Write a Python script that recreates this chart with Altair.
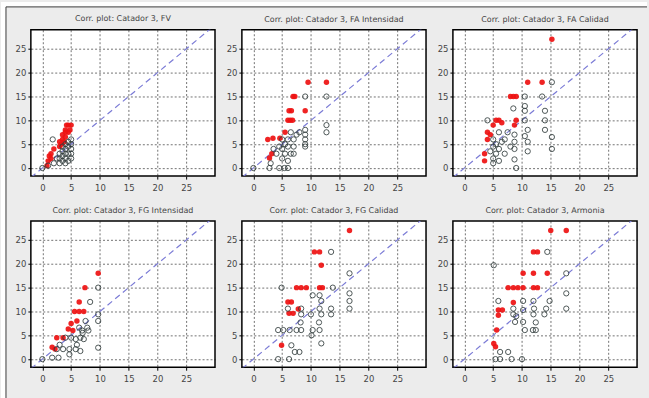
import altair as alt
import pandas as pd

titles = ["Corr. plot: Catador 3, FV", "Corr. plot: Catador 3, FA Intensidad",
          "Corr. plot: Catador 3, FA Calidad", "Corr. plot: Catador 3, FG Intensidad",
          "Corr. plot: Catador 3, FG Calidad", "Corr. plot: Catador 3, Armonia"]

# Panel 1: FV
fv_red_x = [0.8, 1.0, 1.2, 1.5, 1.5, 2.0, 3.0, 3.0, 3.3, 3.5, 3.5, 4.0, 4.0, 4.0, 4.2, 4.5, 4.5, 5.0, 4.8, 3.8]
fv_red_y = [0.5, 1.5, 2.5, 2.0, 3.0, 4.0, 4.5, 5.5, 5.0, 6.0, 7.0, 6.5, 7.5, 8.0, 9.0, 9.0, 7.5, 9.0, 8.0, 5.5]
fv_blk_x = [0.0, 1.0, 2.0, 2.5, 3.0, 3.0, 3.0, 3.5, 3.5, 3.5, 4.0, 4.0, 4.0, 4.0, 4.5, 4.5, 4.5, 4.5, 5.0, 5.0, 5.0, 5.0, 5.0, 1.8, 3.5, 4.0]
fv_blk_y = [0.0, 0.5, 1.0, 2.0, 1.0, 2.0, 3.0, 1.5, 2.5, 3.5, 1.0, 2.0, 3.0, 4.0, 1.5, 3.0, 4.5, 5.5, 2.0, 3.0, 4.0, 5.0, 6.0, 6.0, 4.5, 5.0]

# Panel 2: FA Intensidad
fai_red_x = [9.5, 12.7, 6.9, 7.2, 6.6, 6.2, 9.0, 6.4, 6.8, 6.0, 3.4, 4.6, 2.8, 3.2, 5.5, 2.5]
fai_red_y = [18, 18, 15, 15, 12, 12, 12, 10, 10, 10, 6.25, 6.25, 2.1, 3.0, 7.5, 6.0]
fai_blk_x = [12.7, 9.0, 12.7, 12.7, 9.0, 9.0, 9.0, 9.0, 9.0, 8.0, 7.5, 7.0, 7.0, 6.5, 6.5, 6.0, 6.0, 6.0, 5.5, 5.5, 5.0, 5.0, 4.5, 4.0, 3.5, 3.0, 0.0, 2.8, 4.5, 5.4, 6.0, 7.0, 5.0]
fai_blk_y = [15, 15, 9, 7.5, 8.0, 7.0, 6.0, 5.0, 4.5, 7.5, 7.0, 6.0, 4.5, 7.5, 3.0, 6.0, 4.5, 1.5, 5.0, 3.0, 6.0, 2.0, 4.5, 3.0, 4.0, 1.0, 0.0, 0.0, 0.0, 0.0, 0.0, 3.0, 4.0]

# Panel 3: FA Calidad
fac_red_x = [15.2, 11.0, 13.5, 8.0, 8.5, 9.0, 6.0, 6.5, 5.5, 5.0, 9.0, 4.0, 4.5, 4.0, 3.5, 3.5, 8.7]
fac_red_y = [27, 18, 18, 15, 15, 15, 10, 9.5, 10, 9, 10, 7.5, 7.0, 6.0, 3.0, 1.5, 9]
fac_blk_x = [15.2, 10.5, 13.5, 14.0, 14.0, 14.0, 15.2, 15.2, 10.5, 10.5, 10.5, 11.0, 10.5, 11.0, 11.0, 8.7, 8.7, 8.7, 8.7, 9.0, 5.0, 5.5, 6.0, 6.5, 5.0, 5.5, 5.0, 6.0, 5.0, 7.0, 7.0, 7.5, 8.0, 4.0, 6.0, 4.5, 8.5]
fac_blk_y = [18, 15, 15, 12, 10, 8, 6.5, 4, 13, 12, 10, 8, 6.7, 5.5, 3.5, 7, 5.5, 4, 1.8, 0, 6, 5, 4, 5.5, 4.5, 3, 2, 1.5, 1, 3, 6, 7.5, 4.5, 10, 7.5, 3.5, 12.5]

# Panel 4: FG Intensidad
fgi_red_x = [9.7, 7.4, 6.4, 5.6, 6.4, 7.2, 6.0, 4.5, 5.3, 3.6, 2.5, 1.7, 2.2, 5.0]
fgi_red_y = [18, 15, 12, 10, 10, 10, 8, 6.3, 6, 4.5, 4.5, 2.5, 2.1, 7.5]
fgi_blk_x = [9.7, 8.3, 9.7, 9.7, 7.5, 7.8, 8.0, 6.4, 6.9, 4.0, 5.0, 5.8, 6.6, 7.2, 2.5, 3.6, 4.7, 5.8, 6.6, 1.7, 2.8, 4.7, 9.7, 0.0, 3.0, 6.0, 7.0]
fgi_blk_y = [15, 12, 9.4, 8, 8, 6.6, 6, 6.6, 6, 4.5, 4.5, 4.2, 4.5, 4.2, 2.1, 2.1, 2.1, 2.1, 1.7, 0.3, 0.3, 1.0, 2.4, 0.0, 3.0, 3.0, 5.5]

# Panel 5: FG Calidad
fgc_red_x = [16.7, 10.6, 11.5, 11.8, 7.5, 8.3, 9.2, 11.5, 6.0, 6.6, 6.2, 6.9, 7.8, 4.9, 12.0]
fgc_red_y = [27, 22.5, 22.5, 19.7, 15, 15, 15, 15, 12, 12, 9.6, 9.6, 10.5, 2.9, 15]
fgc_blk_x = [13.5, 16.7, 16.7, 16.7, 16.7, 13.8, 13.5, 13.5, 11.5, 11.8, 11.5, 11.8, 11.4, 11.5, 10.3, 10.1, 11.8, 8.3, 8.3, 8.2, 7.5, 8.3, 6.3, 5.2, 4.3, 6.6, 8.0, 7.2, 4.3, 6.2, 4.9, 6.0, 10.3, 10.0]
fgc_blk_y = [22.5, 18, 13.8, 12.2, 10.6, 15, 10.6, 9.4, 13.4, 12.2, 10.6, 9.4, 7.7, 6.1, 6.1, 5.0, 3.3, 10.6, 9.4, 7.7, 6.1, 6.1, 6.1, 6.1, 6.1, 2.9, 1.5, 1.5, 0, 0, 15, 10.6, 13.4, 9.4]

# Panel 6: Armonia
arm_red_x = [15, 17.7, 12, 12.7, 10.2, 12, 14.4, 7.6, 8.5, 9.3, 10.2, 12, 12.7, 8.5, 5.9, 6.6, 5.9, 5.6, 5.1, 5.4]
arm_red_y = [27, 27, 22.5, 22.5, 18, 18, 18, 15, 15, 15, 15, 15, 15, 11.9, 10.3, 10.3, 9.2, 6.1, 3.3, 2.6]
arm_blk_x = [14.4, 17.7, 17.7, 17.7, 14.8, 14.2, 13.9, 12, 12.1, 12, 12.4, 10.2, 10.2, 10.2, 8.5, 8.5, 8.8, 10.5, 11.9, 12.4, 5.1, 5.9, 6.2, 7.6, 5.4, 6.2, 8.2, 10.0, 9.0]
arm_blk_y = [22.5, 18, 13.8, 10.6, 12.2, 10.6, 9.4, 12.2, 10.6, 9.4, 7.7, 12.2, 10.3, 7.8, 10.6, 9.4, 7.8, 6.1, 6.1, 6.1, 19.7, 12.2, 1.5, 1.5, 0, 0, 0, 0, 9.0]

tick_vals = [0, 5, 10, 15, 20, 25]
x_dom = [-2, 30]
y_dom = [-1.7, 29]
diag_vals = [-2, 30]

panels = [
    (fv_red_x, fv_red_y, fv_blk_x, fv_blk_y),
    (fai_red_x, fai_red_y, fai_blk_x, fai_blk_y),
    (fac_red_x, fac_red_y, fac_blk_x, fac_blk_y),
    (fgi_red_x, fgi_red_y, fgi_blk_x, fgi_blk_y),
    (fgc_red_x, fgc_red_y, fgc_blk_x, fgc_blk_y),
    (arm_red_x, arm_red_y, arm_blk_x, arm_blk_y),
]

W, H = 185, 147
TITLE_OFF = 6


def make_panel(i):
    rx, ry, bx, by = panels[i]
    xs = alt.X("x:Q", scale=alt.Scale(domain=x_dom, nice=False, zero=False),
               axis=alt.Axis(values=tick_vals, title=None, labelPadding=4))
    ys = alt.Y("y:Q", scale=alt.Scale(domain=y_dom, nice=False, zero=False),
               axis=alt.Axis(values=tick_vals, title=None, labelPadding=2))
    diag = alt.Chart(pd.DataFrame({"x": diag_vals, "y": diag_vals})).mark_line(
        color="#7b7bd6", strokeDash=[6, 4], strokeWidth=1.2, clip=True
    ).encode(x=xs, y=ys)
    red = alt.Chart(pd.DataFrame({"x": rx, "y": ry})).mark_circle(
        color="#ee1111", size=30, opacity=0.92
    ).encode(x=xs, y=ys)
    blk = alt.Chart(pd.DataFrame({"x": bx, "y": by})).mark_point(
        shape="circle", filled=False, stroke="#2f3a3a", size=28, strokeWidth=1, opacity=0.85
    ).encode(x=xs, y=ys)
    layers = [diag, red, blk]
    off = TITLE_OFF
    if i == 0:
        one = pd.DataFrame({"a": [0]})
        layers.insert(0, alt.Chart(one).mark_rect(color="white").encode(
            x=alt.value(-30), x2=alt.value(-25), y=alt.value(-28), y2=alt.value(370)))
        layers.insert(0, alt.Chart(one).mark_rect(color="white").encode(
            x=alt.value(-30), x2=alt.value(619), y=alt.value(-28), y2=alt.value(-23)))
        layers.append(alt.Chart(one).mark_rule(color="#3a3a3a", strokeWidth=1).encode(
            x=alt.value(-25), y=alt.value(-23), y2=alt.value(370)))
        layers.append(alt.Chart(one).mark_rule(color="#3a3a3a", strokeWidth=1).encode(
            y=alt.value(-23), x=alt.value(-25), x2=alt.value(619)))
        off = TITLE_OFF - 28 + 0.75
    return alt.layer(*layers).properties(
        width=W, height=H,
        title=alt.TitleParams(titles[i], fontSize=8, color="#444", font="DejaVu Sans",
                              fontWeight="normal", offset=off, frame="group")
    )


chart = alt.concat(*[make_panel(i) for i in range(6)], columns=3,
                   spacing={"row": 45, "column": 27}, bounds="flush").properties(
    padding=0, background="#ececec"
).configure_view(
    fill="white", stroke="black", strokeWidth=1.5
).configure_axis(
    domain=False, grid=True, gridColor="black", gridDash=[2, 2], gridWidth=0.7,
    gridOpacity=0.8, tickColor="black", tickSize=3, labelFontSize=8.5,
    labelColor="#444", labelFont="DejaVu Sans"
)

chart.save("out.html", embed_options={"renderer": "svg", "actions": False})
